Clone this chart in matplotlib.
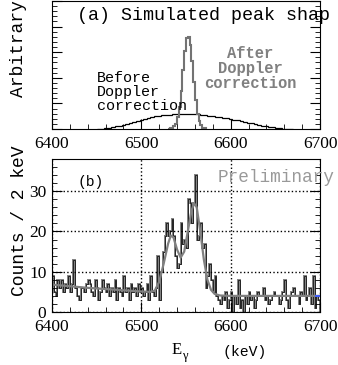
import numpy as np
import matplotlib
matplotlib.use("Agg")
import matplotlib.pyplot as plt
from matplotlib.ticker import MultipleLocator

plt.rcParams.update({
    'font.family': 'Liberation Serif',
    'xtick.direction': 'in',
    'ytick.direction': 'in',
    'xtick.labelsize': 12.5,
    'ytick.labelsize': 12.5,
})
MONO = 'Liberation Mono'

# ---- panel (a): simulated peak shapes (arbitrary units) ----
narrow_edges0 = 6530
narrow_width = 2
narrow_vals = [0.0, 0.005, 0.01, 0.02, 0.04, 0.09, 0.17, 0.30, 0.46, 0.61, 0.71,
               0.72, 0.66, 0.53, 0.37, 0.23, 0.12, 0.06, 0.03, 0.01, 0.005, 0.0]

broad_edges0 = 6450
broad_width = 4
broad_vals = [0.000, 0.003, 0.006, 0.010, 0.015, 0.020, 0.026, 0.032, 0.040, 0.047,
              0.055, 0.063, 0.071, 0.079, 0.086, 0.092, 0.098, 0.102, 0.106, 0.109,
              0.112, 0.114, 0.116, 0.117, 0.118, 0.118, 0.117, 0.116, 0.114, 0.111,
              0.108, 0.104, 0.100, 0.096, 0.092, 0.088, 0.083, 0.078, 0.073, 0.068,
              0.062, 0.056, 0.050, 0.044, 0.038, 0.032, 0.027, 0.022, 0.017, 0.013,
              0.009, 0.006, 0.003, 0.001, 0.000]

# ---- panel (b): measured spectrum, 2 keV bins from 6400 keV ----
bin_start = 6400
bin_width = 2
counts = [9, 5, 4, 8, 6, 8, 5, 7, 6, 9,
          5, 7, 13, 6, 4, 3, 6, 6, 5, 7,
          8, 7, 5, 4, 8, 6, 3, 5, 8, 6,
          5, 7, 4, 6, 5, 8, 3, 6, 5, 4,
          9, 5, 6, 3, 7, 5, 6, 4, 7, 5,
          6, 4, 5, 7, 3, 9, 5, 4, 6, 14,
          3, 10, 15, 19, 22, 19, 20, 23, 19, 14,
          11, 12, 22, 17, 18, 16, 28, 27, 22, 27,
          34, 18, 19, 22, 16, 17, 6, 9, 12, 8,
          5, 9, 4, 3, 2, 4, 3, 5, 1, 3,
          5, 0, 4, 2, 8, 1, 3, 0, 4, 2,
          5, 3, 4, 1, 3, 5, 4, 4, 6, 3,
          4, 2, 3, 4, 5, 4, 4, 2, 3, 5,
          8, 3, 1, 4, 5, 6, 4, 4, 2, 5,
          4, 9, 3, 4, 6, 2, 9, 1, 4, 3]

fit_e = [6400, 6420, 6440, 6460, 6480, 6500, 6510, 6515, 6520, 6525, 6530, 6533,
         6536, 6540, 6544, 6548, 6552, 6556, 6559, 6562, 6566, 6570, 6574, 6578,
         6582, 6588, 6600, 6700]
fit_c = [6.8, 6.4, 6.0, 5.7, 5.4, 5.1, 5.0, 5.3, 7.5, 12, 17, 19,
         18.5, 15.5, 13.5, 15, 20, 25, 27, 26, 20, 13, 8, 5.5,
         4.5, 4.1, 4.0, 4.0]
# short blue piece of the fit at the right edge
tail_e = [6696, 6700]
tail_c = [4.0, 4.0]


def step_edges(start, width, vals):
    return start + width * np.arange(len(vals) + 1)


fig = plt.figure(figsize=(3.38, 3.65), dpi=100)
ax1 = fig.add_axes([52 / 338, 1 - 129 / 365, 268 / 338, 128 / 365])
ax2 = fig.add_axes([52 / 338, 1 - 312 / 365, 268 / 338, 153 / 365])

# panel (a)
ax1.stairs(broad_vals, step_edges(broad_edges0, broad_width, broad_vals),
           color='black', lw=0.9)
ax1.stairs(narrow_vals, step_edges(narrow_edges0, narrow_width, narrow_vals),
           color='0.45', lw=1.5)
ax1.set_xlim(6400, 6700)
ax1.set_ylim(0, 1)
ax1.xaxis.set_major_locator(MultipleLocator(100))
ax1.xaxis.set_minor_locator(MultipleLocator(20))
ax1.yaxis.set_major_locator(MultipleLocator(0.2))
ax1.yaxis.set_minor_locator(MultipleLocator(0.04))
ax1.tick_params(axis='y', which='both', labelleft=False, right=True)
ax1.tick_params(which='major', length=7, pad=5)
ax1.tick_params(which='minor', length=3.5)
ax1.text((77 - 52) / 268, 1 - 14 / 128, '(a) Simulated peak shap',
         transform=ax1.transAxes, family=MONO, fontsize=13.2,
         va='center', ha='left', clip_on=False)
ax1.text((97 - 52) / 268, 1 - 91 / 128, 'Before\nDoppler\ncorrection',
         transform=ax1.transAxes, family=MONO, fontsize=10.8,
         va='center', ha='left', linespacing=1.0)
ax1.text((250 - 52) / 268, 1 - 67 / 128, 'After\nDoppler\ncorrection',
         transform=ax1.transAxes, family=MONO, fontsize=11.2, fontweight='bold',
         color='0.5', va='center', ha='center', linespacing=1.0)
fig.text(19 / 338, 1 - 97 / 365, 'Arbitrary units', family=MONO, fontsize=13,
         rotation=90, ha='center', va='bottom')

# panel (b)
ax2.stairs(counts, step_edges(bin_start, bin_width, counts), color='0.5', lw=1.4)
ax2.stairs(counts, step_edges(bin_start, bin_width, counts), color='black', lw=0.5)
ax2.plot(fit_e, fit_c, color='0.5', lw=1.6)
ax2.plot(tail_e, tail_c, color='#4060ff', lw=1.4)
ax2.set_xlim(6400, 6700)
ax2.set_ylim(0, 38)
ax2.xaxis.set_major_locator(MultipleLocator(100))
ax2.xaxis.set_minor_locator(MultipleLocator(20))
ax2.yaxis.set_major_locator(MultipleLocator(10))
ax2.yaxis.set_minor_locator(MultipleLocator(2))
ax2.tick_params(axis='y', which='both', right=True)
ax2.tick_params(which='major', length=7, pad=4)
ax2.tick_params(which='minor', length=3.5)
ax2.tick_params(axis='x', pad=5)
ax2.grid(True, which='major', color='black', linestyle=':', lw=1.0)
ax2.text((78 - 52) / 268, 1 - 23 / 153, '(b)', transform=ax2.transAxes,
         family=MONO, fontsize=10.5, va='center', ha='left')
ax2.text((218 - 52) / 268, 1 - 18 / 153, 'Preliminary', transform=ax2.transAxes,
         family=MONO, fontsize=12.8, color='0.6', va='center', ha='left',
         clip_on=False)
fig.text(20 / 338, 1 - 221 / 365, 'Counts / 2 keV', family=MONO, fontsize=13,
         rotation=90, ha='center', va='center')
fig.text(177 / 338, 1 - 350 / 365, 'E', fontsize=12, ha='center', va='center')
fig.text(185 / 338, 1 - 356 / 365, 'γ', fontsize=9, ha='center', va='center')
fig.text(245 / 338, 1 - 352 / 365, '(keV)', family=MONO, fontsize=10.6,
         ha='center', va='center')

fig.savefig('out.png', dpi=100, facecolor='white')
